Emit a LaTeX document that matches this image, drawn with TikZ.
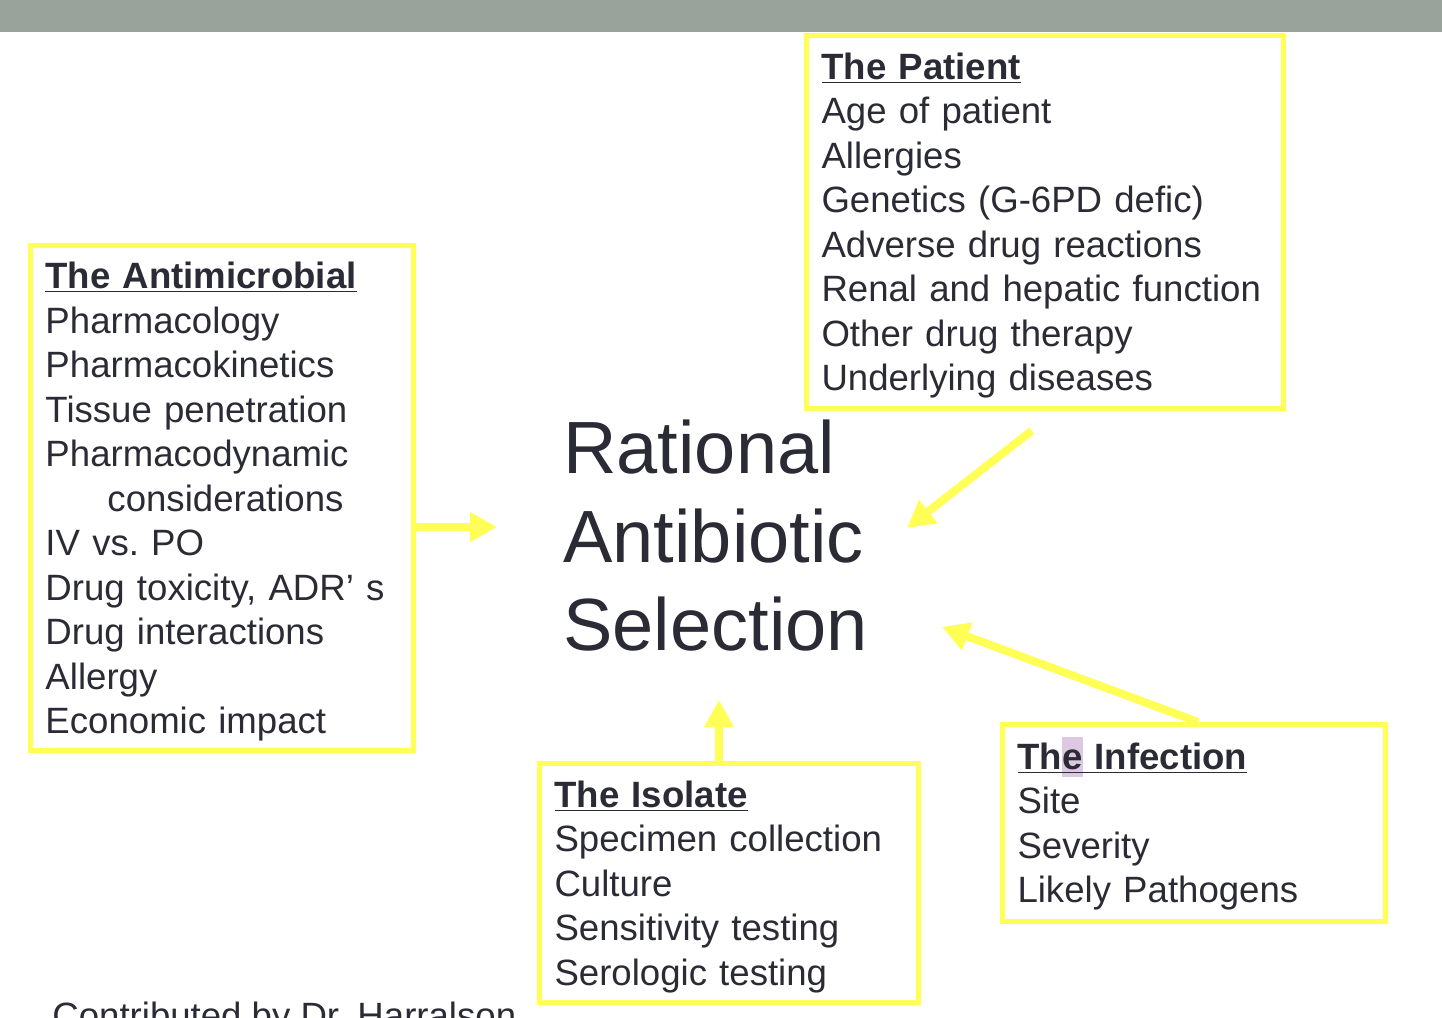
\documentclass[tikz,border=0pt]{standalone}
\usepackage{fontspec}
\setmainfont{Liberation Sans}
\usetikzlibrary{arrows.meta, positioning}
\definecolor{hlyel}{HTML}{FFFF55}
\definecolor{ink}{HTML}{2B2B35}
\definecolor{barg}{HTML}{99A39B}
\definecolor{lav}{HTML}{DCC8E0}
\newcommand{\hdr}[1]{\rule{0pt}{16.8pt}\underline{\textbf{#1}}}
\newcommand{\hl}[1]{\rlap{\smash{\setlength\fboxsep{0pt}\colorbox{lav}{\rule[-4pt]{0pt}{20pt}\phantom{#1}}}}#1}

\begin{document}
\begin{tikzpicture}[x=0.5pt, y=-0.5pt, text=ink, font=\fontsize{18.3}{22.25}\selectfont,
    box/.style={draw=hlyel, line width=2.5pt, rectangle, align=left, inner xsep=7.5pt, inner ysep=0pt},
    arr/.style={hlyel, line width=4pt, -{Triangle[length=13.5pt, width=14pt]}}]
    \useasboundingbox (0,0) rectangle (1442,1018);
    \clip (0,0) rectangle (1442,1018);
    % top bar
    \fill[barg] (0,0) rectangle (1442,32);
    % title
    \node[font=\fontsize{37}{44.25}\selectfont, align=left, inner sep=0pt, anchor=west] (title) at (563,536) {Rational\\Antibiotic\\Selection};
    % boxes
    \node[box, text width=176.5pt, minimum height=252.5pt] (anti) at (222,498) {\hdr{The Antimicrobial}\\Pharmacology\\Pharmacokinetics\\Tissue penetration\\Pharmacodynamic\\\hspace*{31pt}considerations\\IV vs.\ PO\\Drug toxicity, ADR’ s\\Drug interactions\\Allergy\\Economic impact};
    \node[box, text width=223.5pt, minimum height=186.5pt] (pat) at (1045,222) {\hdr{The Patient}\\Age of patient\\Allergies\\Genetics (G-6PD defic)\\Adverse drug reactions\\Renal and hepatic function\\Other drug therapy\\Underlying diseases};
    \node[box, text width=174.5pt, minimum height=119.5pt] (iso) at (729,883) {\hdr{The Isolate}\\Specimen collection\\Culture\\Sensitivity testing\\Serologic testing};
    \node[box, text width=176.5pt, minimum height=98.5pt] (inf) at (1194,823) {\hdr{Th\hl{e} Infection}\\Site\\Severity\\Likely Pathogens};
    % arrow tips
    \coordinate (tipL) at (497,527);
    \coordinate (tipU) at (719,700);
    \coordinate (tipP) at (907,528);
    \coordinate (tipI) at (942,627);
    \draw[arr] (anti.east |- tipL) -- (tipL);
    \draw[arr] (iso.north -| tipU) -- (tipU);
    \draw[arr, shorten <=16pt] ([xshift=6pt]pat.south) -- (tipP);
    \draw[arr] ([xshift=2pt]inf.north) -- (tipI);
    % credit
    \node[anchor=base west, inner sep=0pt] (credit) at (52,1028) {Contributed by Dr.\ Harralson};
\end{tikzpicture}
\end{document}
